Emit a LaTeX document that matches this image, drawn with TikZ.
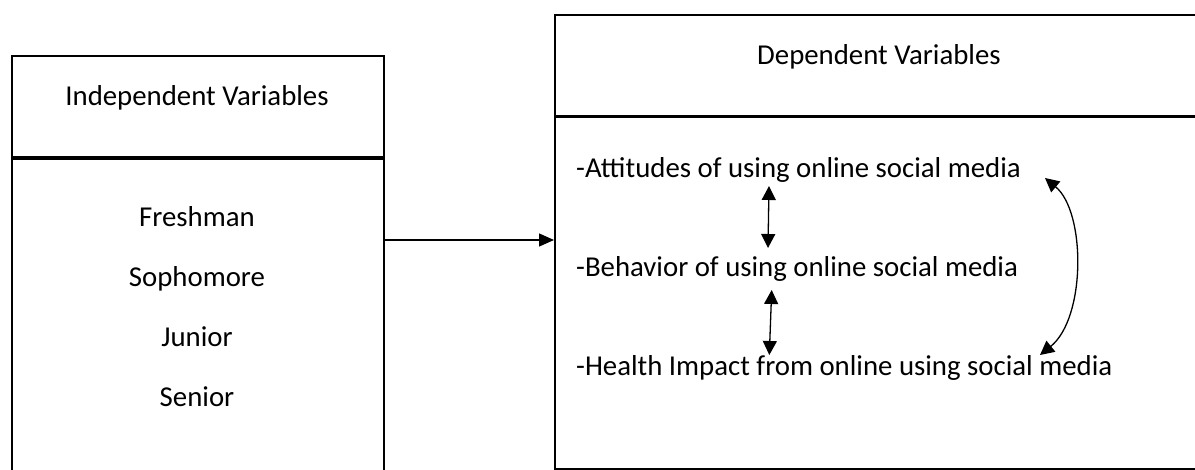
\documentclass[tikz,border=0pt]{standalone}
\usepackage{fontspec}
\setmainfont{Carlito}
\usetikzlibrary{arrows.meta}
\begin{document}
\begin{tikzpicture}[x=1pt,y=-1pt,
  boxline/.style={draw=black,line width=2.2pt,inner sep=0pt},
  lbl/.style={inner sep=0pt,font=\fontsize{28.8}{34}\selectfont},
  tipA/.style={line width=1.3pt,-{Triangle[length=15pt,width=13pt]}},
  tipB/.style={line width=1.3pt,{Triangle[length=14pt,width=14pt]}-{Triangle[length=14pt,width=14pt]}}]
\useasboundingbox (0,0) rectangle (1195,470);
\clip (0,0) rectangle (1195,470);
% left box
\node[boxline,anchor=north west,minimum width=372pt,minimum height=440pt] (lbox) at (11,55) {};
\draw[line width=3.6pt] (lbox.west |- 0,158) -- (lbox.east |- 0,158);
% right box
\node[boxline,anchor=north west,minimum width=660pt,minimum height=454pt] (rbox) at (554,14) {};
\draw[line width=2.2pt] (rbox.west |- 0,116.5) -- (rbox.east |- 0,116.5);
% headers
\node[lbl,anchor=base] (ih) at (197,105.7) {Independent Variables};
\node[lbl,anchor=base west] (dh) at (757,64.3) {Dependent Variables};
% left items
\node[lbl,anchor=base] (fr) at (197,227) {Freshman};
\node[lbl,anchor=base] (so) at (197,286.7) {Sophomore};
\node[lbl,anchor=base] (ju) at (197,346.5) {Junior};
\node[lbl,anchor=base] (se) at (197,406.7) {Senior};
% right items
\node[lbl,anchor=base west] (at) at (576,177.5) {-Attitudes of using online social media};
\node[lbl,anchor=base west] (be) at (576,276.7) {-Behavior of using online social media};
\node[lbl,anchor=base west] (he) at (576,376) {-Health Impact from online using social media};
% main arrow
\coordinate (m) at (0,240);
\draw[tipA] (lbox.east |- m) -- (rbox.west |- m);
% small arrows
\coordinate (a1) at (769,186);
\coordinate (a2) at (768,248);
\coordinate (b1) at (771.7,290);
\coordinate (b2) at (769.3,355);
\draw[tipB] (a1) -- (a2);
\draw[tipB] (b1) -- (b2);
% curved arrow
\coordinate (c1) at (1045,178);
\coordinate (c2) at (1040,355);
\draw[tipB] (c1) .. controls (1086,212) and (1086,318) .. (c2);
\end{tikzpicture}
\end{document}
